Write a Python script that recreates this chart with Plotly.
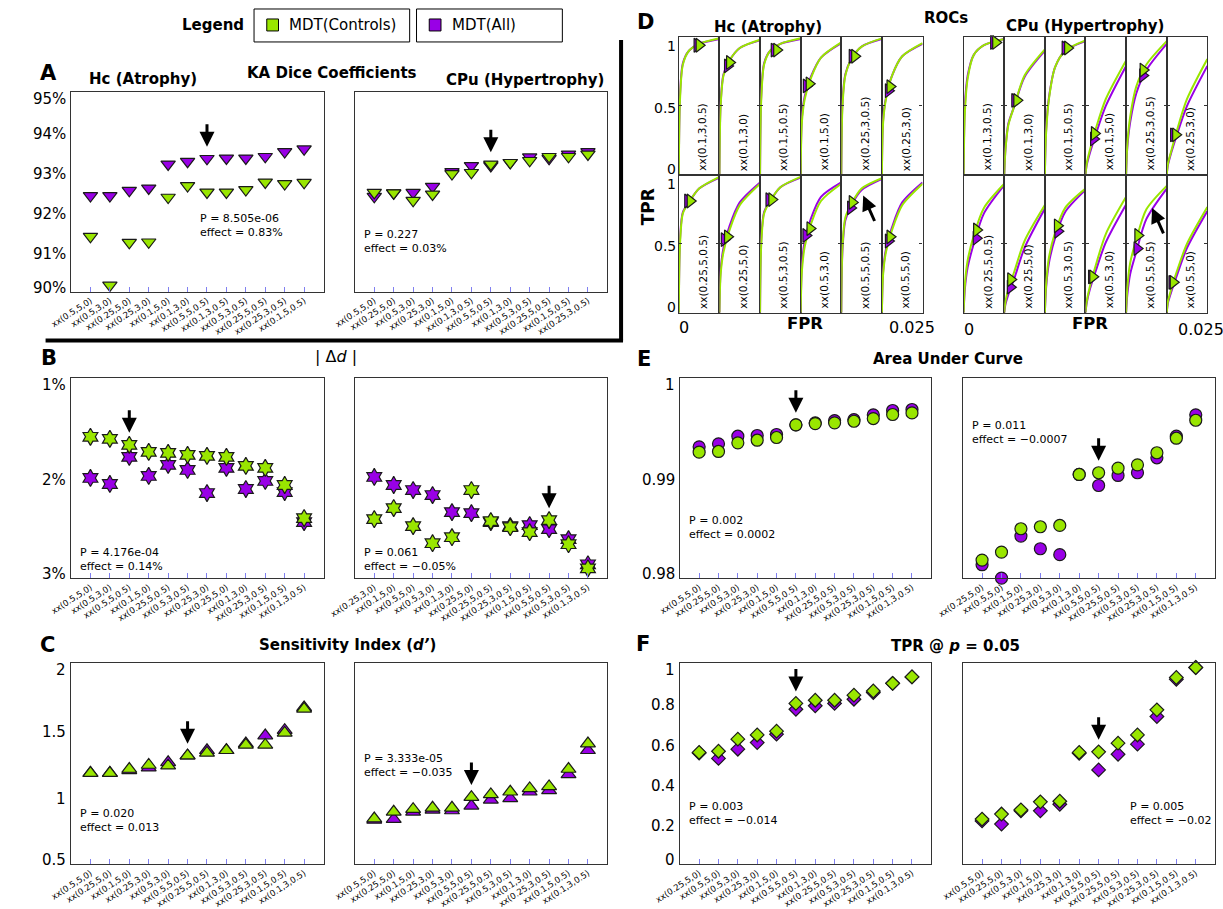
import plotly.graph_objects as go

W, H = 1223, 909
GREEN = '#99e600'
PURPLE = '#9900e6'
OUTLINE = '#1a1a1a'
FRAME = '#333333'
TICK_COLOR = '#8080f0'
SANS = 'DejaVu Sans'

# ---------------- data ----------------
A_HC_LABELS = ['xx(0.5,5,0)', 'xx(0.5,3,0)', 'xx(0.25,5,0)', 'xx(0.25,3,0)', 'xx(0.1,5,0)', 'xx(0.1,3,0)',
               'xx(0.5,5,0.5)', 'xx(0.1,3,0.5)', 'xx(0.5,3,0.5)', 'xx(0.25,5,0.5)', 'xx(0.25,3,0.5)', 'xx(0.1,5,0.5)']
A_HC_CTRL = [91.38, 90.16, 91.23, 91.24, 92.36, 92.65, 92.49, 92.49, 92.55, 92.74, 92.70, 92.73]
A_HC_ALL = [92.40, 92.40, 92.53, 92.59, 93.19, 93.26, 93.33, 93.34, 93.34, 93.38, 93.50, 93.57]
A_HC_STATS = ('8.505e-06', '0.83%')

A_CPU_LABELS = ['xx(0.5,5,0)', 'xx(0.25,5,0)', 'xx(0.5,3,0)', 'xx(0.25,3,0)', 'xx(0.1,5,0)', 'xx(0.1,3,0.5)',
                'xx(0.5,5,0.5)', 'xx(0.1,3,0)', 'xx(0.5,3,0.5)', 'xx(0.25,5,0.5)', 'xx(0.1,5,0.5)', 'xx(0.25,3,0.5)']
A_CPU_CTRL = [92.48, 92.47, 92.28, 92.44, 92.95, 92.98, 93.19, 93.23, 93.28, 93.38, 93.38, 93.44]
A_CPU_ALL = [92.38, 92.47, 92.48, 92.63, 93.00, 93.15, 93.15, 93.23, 93.37, 93.33, 93.44, 93.50]
A_CPU_STATS = ('0.227', '0.03%')

B_HC_LABELS = ['xx(0.5,5,0)', 'xx(0.5,3,0)', 'xx(0.5,5,0.5)', 'xx(0.1,5,0)', 'xx(0.25,5,0.5)', 'xx(0.5,3,0.5)',
               'xx(0.25,3,0)', 'xx(0.25,5,0)', 'xx(0.1,3,0)', 'xx(0.25,3,0.5)', 'xx(0.1,5,0.5)', 'xx(0.1,3,0.5)']
B_HC_CTRL = [1.59, 1.61, 1.67, 1.74, 1.75, 1.77, 1.78, 1.79, 1.88, 1.90, 2.07, 2.40]
B_HC_ALL = [2.00, 2.06, 1.79, 1.98, 1.87, 1.92, 2.15, 1.90, 2.11, 2.03, 2.14, 2.44]
B_HC_STATS = ('4.176e-04', '0.14%')

B_CPU_LABELS = ['xx(0.25,3,0)', 'xx(0.1,5,0)', 'xx(0.5,5,0)', 'xx(0.5,3,0)', 'xx(0.1,3,0)', 'xx(0.25,5,0)',
                'xx(0.25,5,0.5)', 'xx(0.25,3,0.5)', 'xx(0.1,5,0.5)', 'xx(0.5,5,0.5)', 'xx(0.5,3,0.5)', 'xx(0.1,3,0.5)']
B_CPU_CTRL = [2.41, 2.30, 2.48, 2.65, 2.59, 2.12, 2.43, 2.49, 2.54, 2.42, 2.66, 2.90]
B_CPU_ALL = [1.99, 2.07, 2.12, 2.17, 2.34, 2.35, 2.44, 2.48, 2.47, 2.51, 2.61, 2.86]
B_CPU_STATS = ('0.061', '\u22120.05%')

C_HC_LABELS = ['xx(0.5,5,0)', 'xx(0.25,5,0)', 'xx(0.1,5,0)', 'xx(0.25,3,0)', 'xx(0.5,3,0)', 'xx(0.5,5,0.5)',
               'xx(0.25,5,0.5)', 'xx(0.1,3,0)', 'xx(0.5,3,0.5)', 'xx(0.25,3,0.5)', 'xx(0.1,5,0.5)', 'xx(0.1,3,0.5)']
C_HC_CTRL = [1.18, 1.18, 1.21, 1.24, 1.235, 1.31, 1.33, 1.35, 1.39, 1.39, 1.48, 1.66]
C_HC_ALL = [1.18, 1.18, 1.20, 1.22, 1.26, 1.31, 1.35, 1.35, 1.40, 1.46, 1.50, 1.67]
C_HC_STATS = ('0.020', '0.013')

C_CPU_LABELS = ['xx(0.5,5,0)', 'xx(0.25,5,0)', 'xx(0.1,5,0)', 'xx(0.25,3,0)', 'xx(0.5,3,0)', 'xx(0.5,5,0.5)',
                'xx(0.25,5,0.5)', 'xx(0.5,3,0.5)', 'xx(0.1,3,0)', 'xx(0.25,3,0.5)', 'xx(0.1,5,0.5)', 'xx(0.1,3,0.5)']
C_CPU_CTRL = [0.84, 0.89, 0.91, 0.92, 0.92, 1.00, 1.02, 1.04, 1.065, 1.08, 1.21, 1.40]
C_CPU_ALL = [0.83, 0.835, 0.89, 0.905, 0.90, 0.935, 0.98, 0.99, 1.04, 1.05, 1.17, 1.35]
C_CPU_STATS = ('3.333e-05', '\u22120.035')

E_HC_LABELS = ['xx(0.5,5,0)', 'xx(0.25,5,0)', 'xx(0.5,3,0)', 'xx(0.25,3,0)', 'xx(0.1,5,0)', 'xx(0.5,5,0.5)',
               'xx(0.1,3,0)', 'xx(0.25,5,0.5)', 'xx(0.5,3,0.5)', 'xx(0.25,3,0.5)', 'xx(0.1,5,0.5)', 'xx(0.1,3,0.5)']
E_HC_CTRL = [0.99257, 0.99264, 0.99350, 0.99376, 0.99403, 0.99529, 0.99542, 0.99549, 0.99565, 0.99592, 0.99632, 0.99648]
E_HC_ALL = [0.99310, 0.99340, 0.99416, 0.99423, 0.99433, 0.99529, 0.99549, 0.99572, 0.99582, 0.99629, 0.99672, 0.99682]
E_HC_STATS = ('0.002', '0.0002')

E_CPU_LABELS = ['xx(0.25,5,0)', 'xx(0.5,5,0)', 'xx(0.1,5,0)', 'xx(0.25,3,0)', 'xx(0.5,3,0)', 'xx(0.1,3,0)',
                'xx(0.5,5,0.5)', 'xx(0.25,5,0.5)', 'xx(0.5,3,0.5)', 'xx(0.25,3,0.5)', 'xx(0.1,5,0.5)', 'xx(0.1,3,0.5)']
E_CPU_CTRL = [0.98182, 0.98262, 0.98494, 0.98514, 0.98527, 0.99035, 0.99052, 0.99098, 0.99131, 0.99251, 0.99396, 0.99575]
E_CPU_ALL = [0.98136, 0.98003, 0.98421, 0.98295, 0.98236, 0.99035, 0.98925, 0.99025, 0.99052, 0.99201, 0.99416, 0.99629]
E_CPU_STATS = ('0.011', '\u22120.0007')

F_HC_LABELS = ['xx(0.25,5,0)', 'xx(0.5,5,0)', 'xx(0.5,3,0)', 'xx(0.25,3,0)', 'xx(0.1,5,0)', 'xx(0.5,5,0.5)',
               'xx(0.1,3,0)', 'xx(0.25,5,0.5)', 'xx(0.5,3,0.5)', 'xx(0.25,3,0.5)', 'xx(0.1,5,0.5)', 'xx(0.1,3,0.5)']
F_HC_CTRL = [0.556, 0.562, 0.622, 0.643, 0.662, 0.800, 0.816, 0.816, 0.841, 0.862, 0.900, 0.932]
F_HC_ALL = [0.553, 0.526, 0.572, 0.605, 0.647, 0.771, 0.788, 0.800, 0.821, 0.854, 0.900, 0.932]
F_HC_STATS = ('0.003', '\u22120.014')

F_CPU_LABELS = ['xx(0.5,5,0)', 'xx(0.25,5,0)', 'xx(0.5,3,0)', 'xx(0.1,5,0)', 'xx(0.25,3,0)', 'xx(0.1,3,0)',
                'xx(0.5,5,0.5)', 'xx(0.25,5,0.5)', 'xx(0.5,3,0.5)', 'xx(0.25,3,0.5)', 'xx(0.1,5,0.5)', 'xx(0.1,3,0.5)']
F_CPU_CTRL = [0.224, 0.249, 0.270, 0.310, 0.313, 0.556, 0.559, 0.602, 0.643, 0.768, 0.929, 0.979]
F_CPU_ALL = [0.215, 0.199, 0.265, 0.265, 0.298, 0.552, 0.469, 0.547, 0.597, 0.735, 0.920, 0.979]
F_CPU_STATS = ('0.005', '\u22120.02')

SELECTED = 'xx(0.5,5,0.5)'

# ROC grids (D)
ROC_CELLS = ['xx(0.1,3,0.5)', 'xx(0.1,3,0)', 'xx(0.1,5,0.5)', 'xx(0.1,5,0)', 'xx(0.25,3,0.5)', 'xx(0.25,3,0)',
             'xx(0.25,5,0.5)', 'xx(0.25,5,0)', 'xx(0.5,3,0.5)', 'xx(0.5,3,0)', 'xx(0.5,5,0.5)', 'xx(0.5,5,0)']
ROC_FPR = [0, 0.00075, 0.0025, 0.00625, 0.0125, 0.025]
HC_ROC_CTRL = [
    [0, .55, .80, .90, .95, .99], [0, .50, .72, .83, .92, .98], [0, .55, .80, .90, .95, .99],
    [0, .38, .55, .70, .85, .96], [0, .50, .72, .84, .93, .99], [0, .38, .55, .72, .86, .955],
    [0, .50, .72, .80, .90, .985], [0, .28, .44, .60, .78, .935], [0, .50, .72, .81, .91, .985],
    [0, .30, .48, .64, .81, .935], [0, .48, .69, .79, .90, .975], [0, .28, .44, .60, .78, .935]]
HC_ROC_ALL = [
    [0, .58, .81, .90, .95, .985], [0, .52, .73, .83, .92, .975], [0, .58, .81, .90, .95, .985],
    [0, .41, .57, .71, .85, .955], [0, .53, .73, .84, .93, .985], [0, .40, .56, .72, .86, .95],
    [0, .53, .73, .80, .90, .98], [0, .31, .47, .63, .80, .945], [0, .53, .73, .81, .91, .98],
    [0, .34, .52, .68, .84, .945], [0, .46, .67, .78, .89, .97], [0, .30, .46, .62, .80, .945]]
HC_MARK_CTRL_FPR = [.0125, .00625, .01025, .00525, .00825, .005, .007, .005, .00725, .00575, .00675, .005]
HC_MARK_CTRL_TPR = [.94, .815, .905, .66, .86, .64, .81, .55, .82, .61, .80, .55]
HC_MARK_ALL_FPR = [.01125, .005, .00875, .0035, .00675, .004, .0055, .003, .0055, .00325, .00575, .004]
HC_MARK_ALL_TPR = [.94, .79, .905, .645, .86, .61, .81, .53, .82, .56, .76, .52]

CPU_ROC_CTRL = [
    [0, .45, .70, .87, .94, .985], [0, .18, .36, .50, .72, .91], [0, .30, .55, .78, .90, .975],
    [0, .08, .17, .33, .55, .83], [0, .22, .42, .64, .80, .97], [0, .08, .16, .32, .55, .84],
    [0, .20, .38, .56, .76, .935], [0, .08, .17, .30, .52, .78], [0, .20, .40, .58, .76, .90],
    [0, .08, .18, .34, .57, .84], [0, .18, .36, .53, .75, .92], [0, .08, .16, .30, .50, .766]]
CPU_ROC_ALL = [
    [0, .50, .72, .87, .94, .985], [0, .19, .37, .50, .71, .90], [0, .32, .56, .78, .90, .97],
    [0, .07, .15, .29, .50, .79], [0, .20, .38, .59, .76, .95], [0, .07, .15, .29, .50, .79],
    [0, .17, .33, .50, .72, .925], [0, .06, .13, .25, .47, .755], [0, .18, .36, .54, .73, .89],
    [0, .07, .16, .30, .51, .785], [0, .13, .28, .44, .68, .90], [0, .07, .14, .27, .47, .737]]
CPU_MARK_CTRL_FPR = [.01975, .00775, .014, .0055, .0105, .0055, .008, .004, .00775, .0045, .00725, .004]
CPU_MARK_CTRL_TPR = [.96, .54, .92, .30, .76, .29, .60, .24, .63, .26, .56, .22]
CPU_MARK_ALL_FPR = [.0185, .0065, .0125, .005, .01025, .00425, .00775, .00375, .008, .00375, .00675, .00325]
CPU_MARK_ALL_TPR = [.96, .54, .92, .26, .72, .29, .54, .185, .59, .26, .465, .22]
ROC_YTICKS = ([0, 0.5, 1], ['0', '0.5', '1'])

# ---------------- helpers ----------------
def px(x):
    return x / W


def py(y):
    return 1 - y / H


fig = go.Figure()
axes_layout = {}
annotations = []
shapes = []
counter = [0]


def add_axes(x0, x1, y0, y1, xopts, yopts):
    counter[0] += 1
    n = counter[0]
    s = '' if n == 1 else str(n)
    axes_layout['xaxis' + s] = dict(domain=[px(x0), px(x1)], anchor='y' + s, **xopts)
    axes_layout['yaxis' + s] = dict(domain=[py(y1), py(y0)], anchor='x' + s, **yopts)
    return 'x' + s, 'y' + s


def text(t, x, y, size=15, bold=True, angle=0, xanchor='center', yanchor='middle'):
    annotations.append(dict(text=('<b>%s</b>' % t) if bold else t, x=px(x), y=py(y), xref='paper', yref='paper',
                            showarrow=False, xanchor=xanchor, yanchor=yanchor, textangle=angle,
                            font=dict(family=SANS, size=size, color='black')))


def y_tick_labels(ya, left, ticks, yrange, size=15, top_shift=-7, bottom_shift=4, mid_shift=-2):
    """Tick labels placed on the axis' own scale, nudged inward at the extremes as in the figure."""
    vals, labels = ticks
    lo, hi = min(yrange), max(yrange)
    rev = yrange[0] > yrange[1]
    for v, t in zip(vals, labels):
        at_top = (v == lo) if rev else (v == hi)
        at_bottom = (v == hi) if rev else (v == lo)
        shift = top_shift if at_top else (bottom_shift if at_bottom else mid_shift)
        annotations.append(dict(text=t, x=px(left - 3), y=v, xref='paper', yref=ya, showarrow=False,
                                xanchor='right', yanchor='middle', yshift=shift,
                                font=dict(family=SANS, size=size, color='black')))


def category_panel(box, labels, ctrl, allv, symbol, msize, yrange, ytick=None, stats=None, stats_xy=None):
    x0, x1, y0, y1 = box
    n = len(labels)
    xs = list(range(n))
    xopts = dict(range=[-1, n], tickmode='array', tickvals=xs, ticktext=labels, tickangle=-33,
                 ticks='inside', ticklen=5, tickwidth=1, tickcolor=TICK_COLOR,
                 tickfont=dict(family=SANS, size=8.5, color='black'),
                 showline=True, linecolor=FRAME, linewidth=1.2, mirror=True,
                 showgrid=False, zeroline=False)
    yopts = dict(range=yrange, showline=True, linecolor=FRAME, linewidth=1.2, mirror=True,
                 showgrid=False, zeroline=False, ticks='', showticklabels=False)
    if ytick:
        yopts.update(tickmode='array', tickvals=ytick[0])
    xa, ya = add_axes(x0, x1, y0, y1, xopts, yopts)
    if ytick:
        y_tick_labels(ya, x0, ytick, yrange)
    for vals, color in ((allv, PURPLE), (ctrl, GREEN)):
        fig.add_trace(go.Scatter(x=xs, y=vals, mode='markers', xaxis=xa, yaxis=ya, cliponaxis=False,
                                 hoverinfo='skip',
                                 marker=dict(symbol=symbol, size=msize, color=color,
                                             line=dict(color=OUTLINE, width=1.2))))
    k = labels.index(SELECTED)
    rev = yrange[0] > yrange[1]
    top = min(ctrl[k], allv[k]) if rev else max(ctrl[k], allv[k])
    annotations.append(dict(x=k, y=top, xref=xa, yref=ya, text='', showarrow=True, arrowhead=2,
                            arrowsize=1, arrowwidth=3, arrowcolor='black', ax=0, ay=-24, yshift=12,
                            standoff=0))
    if stats:
        annotations.append(dict(text='P = %s<br>effect = %s' % stats, x=px(stats_xy[0]), y=py(stats_xy[1]),
                                xref='paper', yref='paper', showarrow=False, xanchor='left',
                                yanchor='middle', align='left',
                                font=dict(family=SANS, size=11, color='black')))


def roc_grid(xedges, rows, curves_ctrl, curves_all, mctrl, mall, arrow_cell, arrow_xy, ylabels):
    for i, name in enumerate(ROC_CELLS):
        r, c = divmod(i, 6)
        x0, x1 = xedges[c], xedges[c + 1]
        y0, y1 = rows[r]
        xopts = dict(range=[0, 0.025], showticklabels=False, ticks='', showline=True, linecolor=FRAME,
                     linewidth=1.2, mirror=True, showgrid=False, zeroline=False)
        yopts = dict(range=[0, 1], showticklabels=False, ticks='inside', tickvals=[0.5], ticklen=3,
                     tickcolor=FRAME, showline=True, linecolor=FRAME, linewidth=1.2, mirror='ticks',
                     showgrid=False, zeroline=False)
        xa, ya = add_axes(x0, x1, y0, y1, xopts, yopts)
        if ylabels and c == 0:
            y_tick_labels(ya, x0 + 2, ROC_YTICKS, [0, 1], size=14, top_shift=-9, bottom_shift=6, mid_shift=-2)
        for curve, color in ((curves_all[i], PURPLE), (curves_ctrl[i], GREEN)):
            fig.add_trace(go.Scatter(x=ROC_FPR, y=curve, mode='lines', xaxis=xa, yaxis=ya, hoverinfo='skip',
                                     line=dict(color=color, width=2, shape='spline', smoothing=0.8)))
        for (fx, fy), color in ((mall, PURPLE), (mctrl, GREEN)):
            fig.add_trace(go.Scatter(x=[fx[i]], y=[fy[i]], mode='markers', xaxis=xa, yaxis=ya,
                                     cliponaxis=False, hoverinfo='skip',
                                     marker=dict(symbol='triangle-right', size=12, color=color,
                                                 line=dict(color=OUTLINE, width=1.2))))
        annotations.append(dict(text=name, x=px(x0 + 0.58 * (x1 - x0)), y=py(y1 - 2), xref='paper',
                                yref='paper', showarrow=False, textangle=-90, xanchor='center',
                                yanchor='bottom', font=dict(family=SANS, size=10.5, color='black')))
        if i == arrow_cell:
            annotations.append(dict(x=arrow_xy[0], y=arrow_xy[1], xref=xa, yref=ya, text='', showarrow=True,
                                    arrowhead=2, arrowsize=1, arrowwidth=3, arrowcolor='black',
                                    ax=12, ay=27, standoff=0))


# ---------------- panels ----------------
A_Y = ([90, 91, 92, 93, 94, 95], ['90%', '91%', '92%', '93%', '94%', '95%'])
B_Y = ([1, 2, 3], ['1%', '2%', '3%'])
C_Y = ([0.5, 1, 1.5, 2], ['0.5', '1', '1.5', '2'])
E_Y = ([0.98, 0.99, 1.0], ['0.98', '0.99', '1'])
F_Y = ([0, 0.2, 0.4, 0.6, 0.8, 1.0], ['0', '0.2', '0.4', '0.6', '0.8', '1'])

LEFT = (46, 304)
MID = (336, 594)
ELEFT = (668, 925)
ERIGHT = (957, 1215)
ROW1 = (92, 292)
ROW2 = (378, 579)
ROW3 = (664, 865)

category_panel((*LEFT, *ROW1), A_HC_LABELS, A_HC_CTRL, A_HC_ALL, 'triangle-down', 12.5, [90, 95], A_Y,
               A_HC_STATS, (176, 225.5))
category_panel((*MID, *ROW1), A_CPU_LABELS, A_CPU_CTRL, A_CPU_ALL, 'triangle-down', 12.5, [90, 95], None,
               A_CPU_STATS, (343, 241.5))
category_panel((*LEFT, *ROW2), B_HC_LABELS, B_HC_CTRL, B_HC_ALL, 'hexagram', 13, [3, 1], B_Y,
               B_HC_STATS, (53, 560))
category_panel((*MID, *ROW2), B_CPU_LABELS, B_CPU_CTRL, B_CPU_ALL, 'hexagram', 13, [3, 1], None,
               B_CPU_STATS, (343, 560))
category_panel((*LEFT, *ROW3), C_HC_LABELS, C_HC_CTRL, C_HC_ALL, 'triangle-up', 13, [0.5, 2], C_Y,
               C_HC_STATS, (53, 821.5))
category_panel((*MID, *ROW3), C_CPU_LABELS, C_CPU_CTRL, C_CPU_ALL, 'triangle-up', 13, [0.5, 2], None,
               C_CPU_STATS, (343, 766.5))
category_panel((*ELEFT, *ROW2), E_HC_LABELS, E_HC_CTRL, E_HC_ALL, 'circle', 12, [0.98, 1.0], E_Y,
               E_HC_STATS, (675, 528.5))
category_panel((*ERIGHT, *ROW2), E_CPU_LABELS, E_CPU_CTRL, E_CPU_ALL, 'circle', 12, [0.98, 1.0], None,
               E_CPU_STATS, (964, 433))
category_panel((*ELEFT, *ROW3), F_HC_LABELS, F_HC_CTRL, F_HC_ALL, 'diamond', 10.5, [0, 1], F_Y,
               F_HC_STATS, (675, 814))
category_panel((*ERIGHT, *ROW3), F_CPU_LABELS, F_CPU_CTRL, F_CPU_ALL, 'diamond', 10.5, [0, 1], None,
               F_CPU_STATS, (1126, 814))

ROC_ROWS = [(37, 175), (175, 313)]
HC_XEDGES = [667 + 41.5 * k for k in range(7)]
CPU_XEDGES = [958 + 41.5 * k for k in range(7)]
roc_grid(HC_XEDGES, ROC_ROWS, HC_ROC_CTRL, HC_ROC_ALL, (HC_MARK_CTRL_FPR, HC_MARK_CTRL_TPR),
         (HC_MARK_ALL_FPR, HC_MARK_ALL_TPR), 10, (0.0135, 0.85), True)
roc_grid(CPU_XEDGES, ROC_ROWS, CPU_ROC_CTRL, CPU_ROC_ALL, (CPU_MARK_CTRL_FPR, CPU_MARK_CTRL_TPR),
         (CPU_MARK_ALL_FPR, CPU_MARK_ALL_TPR), 10, (0.016, 0.76), False)

# ---------------- texts ----------------
text('Legend', 191, 25, 15)
text('KA Dice Coefficients', 313, 73, 15)
text('Hc (Atrophy)', 120, 79, 15)
text('CPu (Hypertrophy)', 510, 80, 15)
text('| \u0394<i>d</i> |', 317, 357, 16, bold=False)
text('Sensitivity Index (<i>d\u2019</i>)', 328, 646, 15)
text('Area Under Curve', 942, 359, 15)
text('TPR @ <i>p</i> = 0.05', 950, 647, 15)
text('ROCs', 940, 18, 15)
text('Hc (Atrophy)', 758, 27, 15)
text('CPu (Hypertrophy)', 1082, 26, 15)
for letter, lx, ly in (('A', 23, 73), ('B', 23, 358), ('C', 22, 646), ('D', 633, 22), ('E', 631, 359), ('F', 630, 645)):
    text(letter, lx, ly, 21)
text('TPR', 635, 207, 17, angle=-90)
text('FPR', 796, 324, 16.5)
text('FPR', 1087, 324, 16.5)
for t, tx, ty in (('0', 672, 328), ('0.025', 905, 328), ('0', 963, 330), ('0.025', 1201, 330)):
    text(t, tx, ty, 16, bold=False)

# legend boxes
for (bx0, bx1, color, label) in ((233, 392, GREEN, 'MDT(Controls)'), (399, 548, PURPLE, 'MDT(All)')):
    shapes.append(dict(type='rect', xref='paper', yref='paper', x0=px(bx0), x1=px(bx1), y0=py(42), y1=py(9),
                       line=dict(color='black', width=1), fillcolor='white'))
    shapes.append(dict(type='rect', xref='paper', yref='paper', x0=px(bx0 + 13), x1=px(bx0 + 25),
                       y0=py(31), y1=py(19), line=dict(color='black', width=1), fillcolor=color))
    text(label, bx0 + 34, 25, 15, bold=False, xanchor='left')

# thick frame around panel A
shapes.append(dict(type='line', xref='paper', yref='paper', x0=px(608), x1=px(608), y0=py(40), y1=py(341),
                   line=dict(color='black', width=4)))
shapes.append(dict(type='line', xref='paper', yref='paper', x0=px(20), x1=px(610), y0=py(341), y1=py(341),
                   line=dict(color='black', width=4)))

fig.update_layout(width=W, height=H, margin=dict(l=0, r=0, t=0, b=0), paper_bgcolor='white',
                  plot_bgcolor='white', showlegend=False, annotations=annotations, shapes=shapes,
                  **axes_layout)
fig.write_html('out.html')
